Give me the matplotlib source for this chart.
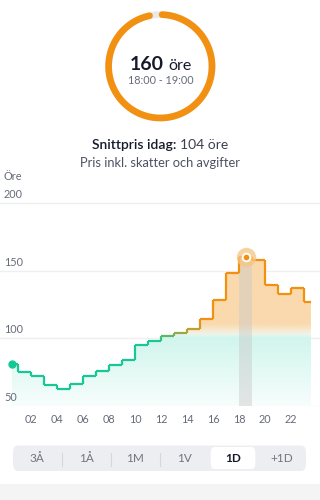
import numpy as np
import matplotlib
matplotlib.use("Agg")
import matplotlib.pyplot as plt
from matplotlib.collections import LineCollection
from matplotlib.colors import LinearSegmentedColormap, to_rgb
from matplotlib.patches import FancyBboxPatch
import matplotlib.transforms as mtransforms

plt.rcParams['font.family'] = ['Lato', 'DejaVu Sans']

# data: hourly price (öre) for today
hours = np.arange(24)
prices = [80.5, 75, 72, 65.4, 62, 66, 71.6, 75.3, 80.2, 83.5, 94.6, 98,
          101.2, 103.7, 106.7, 113.8, 128, 148.4, 160, 158, 139, 132.8, 136.8, 126.7]
y_ticks = [50, 100, 150, 200]
x_ticks = [2, 4, 6, 8, 10, 12, 14, 16, 18, 20, 22]
x_labels = ['02', '04', '06', '08', '10', '12', '14', '16', '18', '20', '22']
current_hour = 18
current_price = 160
avg_price = 104
ranges = ['3Å', '1Å', '1M', '1V', '1D', '+1D']
selected_range = '1D'

GREEN = '#17c896'
ORANGE = '#f29111'
W, H = 320, 500

fig = plt.figure(figsize=(3.2, 5), dpi=100)
fig.patch.set_facecolor('white')


def fx(px):
    return px / W


def fy(py):
    return 1 - py / H


# ---- gauge ----
gax = fig.add_axes([fx(160.3 - 60), fy(66.3 + 60), 120 / W, 120 / H])
gax.set_xlim(-60, 60)
gax.set_ylim(-60, 60)
gax.axis('off')
r = 51.7
t = np.linspace(0, 2 * np.pi, 400)
gax.plot(r * np.cos(t), r * np.sin(t), color='#e9e9e9', lw=4.8)
t = np.radians(np.linspace(88, 102 - 360, 600))
gax.plot(r * np.cos(t), r * np.sin(t), color=ORANGE, lw=4.8, solid_capstyle='round')

fig.text(fx(164), fy(70), f'{current_price}', ha='right', va='baseline',
         fontsize=14, fontweight='bold', color='#151a2b')
fig.text(fx(168), fy(70), 'öre', ha='left', va='baseline', fontsize=11.5, color='#151a2b')
fig.text(fx(160.5), fy(81), f'{current_hour:02d}:00 - {current_hour + 1:02d}:00',
         ha='center', va='center', fontsize=7.8, color='#666b78')

# ---- header ----
t1 = fig.text(0, fy(145), 'Snittpris idag: ', ha='left', va='center',
              fontsize=10, color='#151a2b', fontweight='semibold')
t2 = fig.text(0, fy(145), f'{avg_price} öre', ha='left', va='center',
              fontsize=10, color='#3b4050')
fig.canvas.draw()
w1 = t1.get_window_extent().width
w2 = t2.get_window_extent().width
x0 = 160 - (w1 + w2) / 2
t1.set_x(fx(x0))
t2.set_x(fx(x0 + w1))
fig.text(fx(160), fy(163), 'Pris inkl. skatter och avgifter', ha='center', va='center',
         fontsize=9.3, color='#4d5263')

# ---- chart ----
y_bot_px, y_top_px = 405.5, 195
px_per_unit = 67.5 / 50
ax = fig.add_axes([0, fy(y_bot_px), 1, (y_bot_px - y_top_px) / H])
ax.set_xlim(-5 / 13, 315 / 13)
ax.set_ylim(50, 50 + (y_bot_px - y_top_px) / px_per_unit)
for s in ax.spines.values():
    s.set_visible(False)
ax.set_yticks([])
ax.set_xticks(x_ticks)
ax.set_xticklabels(x_labels, fontsize=7.8, color='#666b78')
ax.tick_params(axis='x', length=0, pad=6)
ax.set_facecolor('none')

for v in y_ticks[1:]:
    ax.axhline(v, color='#efefef', lw=1, zorder=0)
ax.axhline(50, color='#f2f2f2', lw=1, zorder=0)
off = mtransforms.offset_copy(ax.transData, fig=fig, x=0, y=6, units='points')
lab_tr = mtransforms.blended_transform_factory(ax.transAxes, off)
for v in y_ticks:
    ax.text(4 / W, v, str(v), transform=lab_tr, ha='left', va='center',
            fontsize=7.8, color='#666b78')
fig.text(fx(4), fy(177), 'Öre', ha='left', va='center', fontsize=7.8, color='#666b78')

xc = hours + 0.5
prices = np.array(prices)

# gradient fill clipped to step area
poly = ax.fill_between(xc, prices, 50, step='mid', color='none', lw=0)
ylo, yhi = 50, 175
ny = 300
yy = np.linspace(yhi, ylo, ny)
img = np.ones((ny, 2, 4))
orange_fill = np.array(to_rgb('#fad9ad'))
mint = np.array(to_rgb('#d1f5ed'))
for i, v in enumerate(yy):
    if v >= 111:
        c = orange_fill
    elif v >= 100.5:
        a = (v - 100.5) / 10.5
        c = a * orange_fill + (1 - a) * np.array([0.95, 0.99, 0.98])
        if v < 104:
            b = (v - 100.5) / 3.5
            c = b * c + (1 - b) * mint
    else:
        a = (v - 50) / 50
        c = a * mint + (1 - a) * np.array([0.97, 0.995, 0.99])
    img[i, :, :3] = c
im = ax.imshow(img, extent=[0, 24, ylo, yhi], aspect='auto', zorder=1,
               interpolation='bilinear')
im.set_clip_path(poly.get_paths()[0], transform=ax.transData)

# highlight current hour
ax.fill_between([current_hour, current_hour + 1], 50, prices[current_hour],
                color='#c9c9c9', alpha=0.45, lw=0, zorder=2)

# step line coloured by value
vx = [xc[0]]
vy = [prices[0]]
for i in range(len(prices) - 1):
    b = (xc[i] + xc[i + 1]) / 2
    vx += [b, b]
    vy += [prices[i], prices[i + 1]]
vx.append(xc[-1])
vy.append(prices[-1])
fx_pts, fy_pts = [], []
for i in range(len(vx) - 1):
    n = 20
    fx_pts.append(np.linspace(vx[i], vx[i + 1], n))
    fy_pts.append(np.linspace(vy[i], vy[i + 1], n))
px = np.concatenate(fx_pts)
py = np.concatenate(fy_pts)
pts = np.column_stack([px, py]).reshape(-1, 1, 2)
segs = np.concatenate([pts[:-1], pts[1:]], axis=1)
cmap = LinearSegmentedColormap.from_list('p', [GREEN, '#b0a53a', ORANGE])
vals = (py[:-1] + py[1:]) / 2
lc = LineCollection(segs, cmap=cmap, norm=plt.Normalize(98, 112), lw=1.6,
                    capstyle='butt', joinstyle='miter', zorder=3)
lc.set_array(vals)
ax.add_collection(lc)

ax.plot(xc[0], prices[0], 'o', ms=5, color=GREEN, zorder=4)
ax.plot(current_hour + 0.5, current_price, 'o', ms=14, color='#f6c583', alpha=0.75,
        mew=0, zorder=4)
ax.plot(current_hour + 0.5, current_price, 'o', ms=5.5, color=ORANGE, mec='white',
        mew=1.4, zorder=5)

# ---- range selector ----
fig.add_artist(FancyBboxPatch((fx(13), fy(471)), (306 - 13) / W, 25.5 / H,
                              boxstyle='round,pad=0,rounding_size=0.015',
                              transform=fig.transFigure, fc='#eceef1', ec='none'))
fig.add_artist(FancyBboxPatch((fx(210.7), fy(469)), 44.6 / W, 22 / H,
                              boxstyle='round,pad=0,rounding_size=0.012',
                              transform=fig.transFigure, fc='white', ec='none'))
label_x = [37, 86, 135, 184, 233, 282]
for lx, name in zip(label_x, ranges):
    sel = name == selected_range
    fig.text(fx(lx), fy(459), name, ha='center', va='center', fontsize=8.5,
             color='#151a2b' if sel else '#70757f',
             fontweight='bold' if sel else 'normal')
for sx in [61.7, 110.7, 159.7]:
    fig.add_artist(plt.Line2D([fx(sx), fx(sx)], [fy(453), fy(466)],
                              transform=fig.transFigure, color='#d5d7da', lw=0.8))
fig.add_artist(plt.Rectangle((0, 0), 1, fy(484), transform=fig.transFigure,
                             fc='#f4f4f4', ec='none'))

fig.savefig('out.png', dpi=100)
